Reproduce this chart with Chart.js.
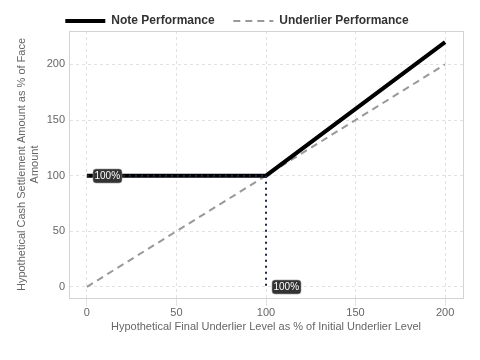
<!DOCTYPE html>
<html>
<head>
<meta charset="utf-8">
<script src="https://cdn.jsdelivr.net/npm/chart.js@4.4.0/dist/chart.umd.min.js"></script>
<style>
  html, body { margin: 0; padding: 0; background: #fff; }
  #wrap { width: 480px; height: 360px; }
</style>
</head>
<body>
<div id="wrap"><canvas id="chart" width="480" height="360"></canvas></div>
<script>
// Final underlier level (% of initial)
const underlierLevels = [0, 100, 200];
// Note payout at those levels
const noteValues = [100, 100, 220];
// Underlier payout (1:1)
const underlierValues = [0, 100, 200];
// Dotted guide lines to the 100% markers
const guideH = [{ x: 0, y: 100 }, { x: 100, y: 100 }];
const guideV = [{ x: 100, y: 100 }, { x: 100, y: 0 }];
// Callout labels
const callouts = [{ x: 0, y: 100, text: '100%' }, { x: 100, y: 0, text: '100%' }];
const tickValues = [0, 50, 100, 150, 200];

const FONT = '"Liberation Sans", Arial, sans-serif';
const toPoints = (xs, ys) => xs.map((x, i) => ({ x: x, y: ys[i] }));

// Small dark tag labels next to points + box around plot area
const calloutPlugin = {
  id: 'callouts',
  beforeInit(chart) {
    // trim the space under the legend a bit
    const legend = chart.legend;
    if (legend) {
      const fit = legend.fit;
      legend.fit = function () { fit.call(this); this.height -= 6; };
    }
  },
  beforeDatasetsDraw(chart) {
    const ctx = chart.ctx, a = chart.chartArea;
    ctx.save();
    ctx.strokeStyle = '#d3d3d3';
    ctx.lineWidth = 1;
    ctx.strokeRect(Math.round(a.left) + 0.5, Math.round(a.top) + 0.5,
      Math.round(a.right - a.left), Math.round(a.bottom - a.top));
    ctx.restore();
  },
  afterDatasetsDraw(chart) {
    const ctx = chart.ctx;
    const xs = chart.scales.x, ys = chart.scales.y;
    ctx.save();
    ctx.font = '10px ' + FONT;
    callouts.forEach(c => {
      const px = Math.round(xs.getPixelForValue(c.x) + 6);
      const py = Math.round(ys.getPixelForValue(c.y));
      const w = Math.round(ctx.measureText(c.text).width + 3);
      const h = 14;
      ctx.fillStyle = '#333';
      ctx.strokeStyle = '#999';
      ctx.lineWidth = 0.6;
      ctx.beginPath();
      ctx.roundRect(px, py - h / 2, w, h, 3);
      ctx.fill();
      ctx.stroke();
      ctx.fillStyle = '#fff';
      ctx.textBaseline = 'middle';
      ctx.fillText(c.text, px + 1.5, py + 0.5);
    });
    ctx.restore();
  }
};

new Chart(document.getElementById('chart'), {
  type: 'line',
  data: {
    datasets: [
      {
        label: 'Note Performance',
        data: toPoints(underlierLevels, noteValues),
        borderColor: '#000',
        backgroundColor: '#000',
        borderWidth: 4,
        pointRadius: 0,
        order: 1
      },
      {
        label: 'Underlier Performance',
        data: toPoints(underlierLevels, underlierValues),
        borderColor: '#999',
        backgroundColor: '#999',
        borderWidth: 2,
        borderDash: [7, 5],
        pointRadius: 0,
        order: 2
      },
      {
        label: 'guide-h',
        data: guideH,
        borderColor: '#1c2a44',
        borderWidth: 2,
        borderDash: [2, 4],
        pointRadius: 0,
        order: 0
      },
      {
        label: 'guide-v',
        data: guideV,
        borderColor: '#1c2a44',
        borderWidth: 2,
        borderDash: [2, 4],
        pointRadius: 0,
        order: 0
      }
    ]
  },
  options: {
    responsive: false,
    animation: false,
    layout: { padding: { left: 11, right: 17, top: 3, bottom: 26 } },
    plugins: {
      legend: {
        position: 'top',
        labels: {
          usePointStyle: true,
          pointStyleWidth: 40,
          boxWidth: 40,
          boxHeight: 10,
          padding: 12,
          color: '#333',
          font: { family: FONT, size: 12, weight: 'bold' },
          generateLabels: chart => chart.data.datasets.slice(0, 2).map((ds, i) => ({
            text: i === 0 ? ds.label + '  ' : ds.label,
            fillStyle: ds.borderColor,
            strokeStyle: ds.borderColor,
            lineWidth: ds.borderWidth,
            lineDash: ds.borderDash || [],
            lineCap: 'butt',
            pointStyle: 'line',
            fontColor: '#333',
            hidden: false,
            datasetIndex: i
          }))
        }
      },
      tooltip: { enabled: false }
    },
    scales: {
      x: {
        type: 'linear',
        min: -10,
        max: 210,
        afterBuildTicks: axis => { axis.ticks = tickValues.map(v => ({ value: v })); },
        afterFit: axis => { axis.height = 36; },
        grid: { color: '#e2e2e2', drawTicks: true, tickLength: 8, tickColor: '#e2e2e2' },
        border: { color: '#c8d0da', dash: [3, 3] },
        ticks: { color: '#666', padding: 0, font: { family: FONT, size: 11 } },
        title: {
          display: true,
          text: 'Hypothetical Final Underlier Level as % of Initial Underlier Level',
          color: '#666',
          font: { family: FONT, size: 11 },
          padding: { top: 0, bottom: 0 }
        }
      },
      y: {
        min: -10,
        max: 230,
        afterBuildTicks: axis => { axis.ticks = tickValues.map(v => ({ value: v })); },
        afterFit: axis => { axis.width = 58; },
        grid: { color: '#e2e2e2', drawTicks: false },
        border: { color: '#d3d3d3', dash: [3, 3] },
        ticks: { color: '#666', padding: 4, font: { family: FONT, size: 11 } },
        title: {
          display: true,
          text: ['Hypothetical Cash Settlement Amount as % of Face', 'Amount'],
          color: '#666',
          font: { family: FONT, size: 11 },
          padding: { top: 4, bottom: 2 }
        }
      }
    }
  },
  plugins: [calloutPlugin]
});
</script>
</body>
</html>
